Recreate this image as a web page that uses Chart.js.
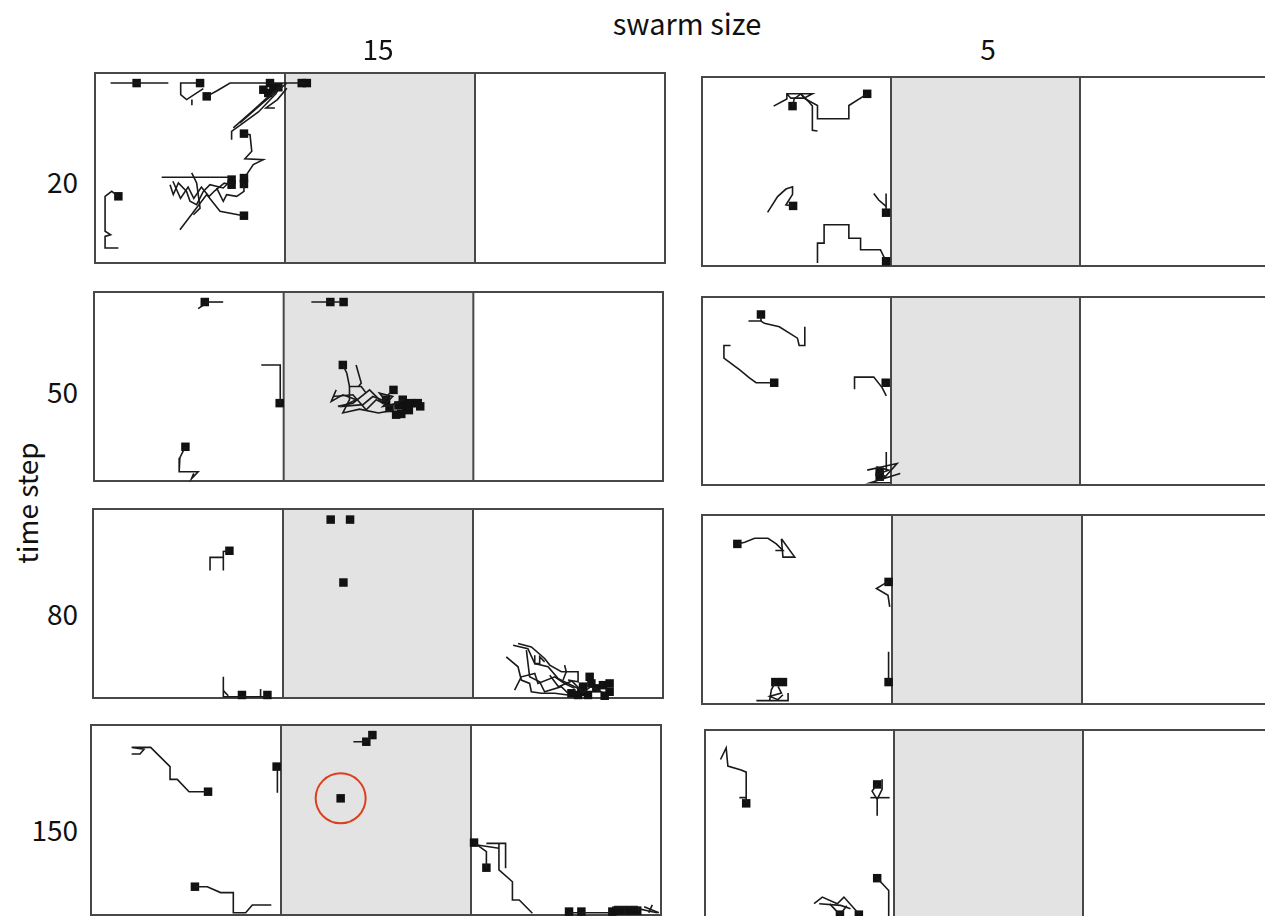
<!DOCTYPE html>
<html>
<head>
<meta charset="utf-8">
<script src="https://cdn.jsdelivr.net/npm/chart.js@4.4.0/dist/chart.umd.min.js"></script>
<style>
  html, body { margin: 0; padding: 0; background: #fff; }
  body { width: 1265px; height: 916px; position: relative; overflow: hidden; font-family: "Noto Sans CJK JP", "Noto Sans", sans-serif; color: #111; }
  canvas { position: absolute; }
  .lbl { position: absolute; white-space: nowrap; line-height: 1; }
</style>
</head>
<body>
<script>
// column / row labels
const swarmSizes = ['15', '5'];
const timeSteps = ['20', '50', '80', '150'];

// arena units: x 0-300 (three zones of 100, middle one shaded), y 0-100
// time step 20, swarm 15
const t20s15Paths = [
  [[8.2,94.7],[38.6,94.7]],
  [[55.3,94.7],[45.1,94.7],[45.1,88.6],[48.2,86.0],[57.0,91.8]],
  [[51,86],[51,83]],
  [[58.8,87.7],[64,90.5],[71.1,94.7],[90.4,94.7]],
  [[92.1,94.7],[110.5,94.7]],
  [[98.2,93.9],[84,81],[72.8,71.1]],
  [[95.6,89.5],[86,79.5],[71.9,69.3],[71.9,64.9]],
  [[100.9,94.7],[88,84],[76.3,73.7]],
  [[94.7,81.6],[90,81.6],[96,86],[101,92]],
  [[78.4,68.1],[81.6,67.5],[82.5,58.8],[78.9,54.9],[88.6,54.4],[83.3,51.8],[79.8,46.5],[78.4,44.7]],
  [[35.1,45.1],[71.1,45.1]],
  [[44.7,17.5],[58.8,36.0],[65.8,27.2],[78.1,24.9]],
  [[39.5,41.2],[41.2,36.0],[43.9,42.1],[48.2,37.7],[50.0,32.5],[53.5,30.7],[57.0,37.7],[60.5,41.2],[67.5,39.5],[71.1,43.0]],
  [[50.9,47.4],[53.5,42.1],[55.3,28.9],[51.8,25.4]],
  [[64.0,39.5],[67.5,32.5],[69.3,36.0],[74.6,35.1],[78.4,37.7],[78.4,41.6]],
  [[41,43],[45,34],[49,40],[52,34],[56,40],[60,35],[63,38],[68,42],[71.9,41.2]],
  [[12.3,35.1],[8.8,37.7],[5.3,35.1],[5.3,16.7],[8.2,14.9],[5.3,14.0],[5.3,7.9],[12.3,7.9]]
];
const t20s15Agents = [[21.9,94.7],[55.3,94.7],[58.8,87.7],[92.1,94.7],[88.6,91.2],[91.2,89.5],[93.9,91.8],[96.5,92.5],
  [108.8,94.7],[111.5,94.7],[78.4,68.1],[71.9,43.9],[71.9,41.2],[78.4,44.7],[78.4,41.6],[78.4,24.9],[12.3,35.1]];

// time step 20, swarm 5
const t20s5Paths = [
  [[37.9,84.6],[44.9,88.4],[44.9,91.1],[58.4,91.1],[54.0,88.8],[47.0,88.8],[44.9,91.1]],
  [[47.9,84.6],[48.8,88.4],[52.3,91.1],[54.0,88.8],[61.1,84.9],[61.1,77.9],[77.7,77.9],[77.7,84.9],[87.4,91.1]],
  [[52.3,91.1],[56.7,86.7],[58.4,84.6],[58.4,71.8],[61.1,71.4]],
  [[48.2,31.8],[44.4,32.3],[47.9,37.9],[47.9,41.9],[44.4,40.7],[40.0,36.7],[34.7,28.4]],
  [[97.4,28.2],[97.4,38.4]],
  [[97.4,31.5],[93.5,34.9],[90.9,38.4]],
  [[61.1,1.6],[61.1,12.1],[64.6,12.1],[64.6,21.8],[77.7,21.8],[77.7,14.7],[83.9,14.7],[83.9,8.6],[94.4,8.6],[97.4,2.5]]
];
const t20s5Agents = [[47.9,84.6],[87.4,91.1],[48.2,31.8],[97.4,28.2],[97.4,2.5]];

// time step 50, swarm 15
const t50s15Paths = [
  [[58.4,94.7],[68.1,94.7]],
  [[58.4,93.5],[54.9,91.2]],
  [[114.6,94.7],[131.6,94.7]],
  [[48.2,18.1],[47.0,15.8],[45.3,12.3],[44.9,4.9],[54.9,4.9],[51.4,1.2],[52.6,4.0]],
  [[88.2,61.4],[98.2,61.4],[98.2,41.2]],
  [[131.2,61.4],[133.3,57.0],[134.7,50.0],[140.9,50.0],[143.5,46.5]],
  [[138.2,61.4],[140.9,51.8],[139.5,50.0]],
  [[127.7,48.2],[125.1,42.1],[131.2,45.6],[138.2,43.0],[131.2,39.5],[141.8,40.4],[147.0,44.7],[154.0,42.1],[150.5,46.5],[157.5,44.7],[152.3,39.5],[161.1,41.2]],
  [[128.6,39.5],[136.5,41.2],[145.3,48.2],[152.3,41.2],[155.8,46.5]],
  [[126.0,44.7],[136.5,45.6],[143.5,37.7],[148.8,43.0],[155.8,39.5],[162.8,43.0]],
  [[134.7,50.0],[134.7,43.0],[131.2,36.0],[140,38],[150,36],[158,37.5]]
];
const t50s15Agents = [[58.4,94.7],[124.6,94.7],[131.6,94.7],[48.2,18.1],[97.9,41.2],[131.2,61.4],[157.9,48.2],[162.8,43.0],
  [167.2,41.2],[170.7,41.2],[155.8,38.6],[159.3,35.1],[164.6,38.6],[154.0,43.0],[160.5,40.0],[162,35.5],[166,37.5],[172,39.5]];

// time step 50, swarm 5
const t50s5Paths = [
  [[24.6,87.2],[31.2,87.2],[33.0,86.0],[40.9,84.2],[50.5,78.1],[51.4,74.2],[54.4,74.2],[54.4,84.2]],
  [[31.2,90.7],[31.2,87.2]],
  [[38.2,54.4],[28.6,54.4],[25.1,57.0],[19.8,61.4],[11.6,67.5],[11.6,74.2],[15.1,74.2]],
  [[80.7,50.9],[80.7,57.4],[90.9,57.4],[95.3,51.8],[97.5,47.4]],
  [[97.2,54.4],[95.5,52.5]],
  [[97.5,17.5],[97.5,7.9]],
  [[87.4,7.9],[103.2,11.4],[96.1,3.5],[104.9,6.1],[89.1,1.2],[99.6,1.2]],
  [[91.8,5.3],[98.8,7.9],[93,9.5],[97,4]]
];
const t50s5Agents = [[31.2,90.7],[38.2,54.4],[97.2,54.4],[94.0,7.0],[94.0,4.4]];

// time step 80, swarm 15
const t80s15Paths = [
  [[71.8,77.9],[68.6,77.5],[68.6,67.4]],
  [[68.6,74.4],[61.6,74.4],[61.6,67.4]],
  [[68.6,11.2],[68.6,0.7],[91.8,0.7]],
  [[68.6,3.9],[71.2,1.2]],
  [[88.2,4.7],[88.2,0.7]],
  [[221.1,27.9],[228.9,26.1],[232.5,18.2],[239.5,16.5],[244.7,10.4],[250.0,7.7],[257.0,4.2]],
  [[223.7,28.8],[230.7,27.0],[237.7,20.9],[240.4,17.4],[246.5,13.9],[255.3,13.9],[255.3,8.6],[250.0,9.5]],
  [[217.5,21.8],[223.7,16.5],[225.4,9.5],[229.8,7.7],[230.7,3.3],[236.0,2.5],[243.0,2.5],[250.0,1.6]],
  [[221.9,4.2],[225.4,11.2],[232.5,13.0],[234.2,7.7],[243.0,11.2],[248.2,7.7],[253.5,5.1]],
  [[228.1,25.3],[229.8,11.2],[235.1,8.6],[237.7,3.3],[246.5,6.0],[250.0,2.5]],
  [[232.5,22.6],[232.5,18.2],[235.1,18.2],[235.1,21.8],[237.7,19.1]],
  [[248.2,17.4],[249.1,13.9],[247.4,9.5]],
  [[240.4,12],[245,6],[252,9],[258,3],[262,6],[268,3]]
];
const t80s15Agents = [[71.8,77.9],[78.4,1.6],[91.8,1.6],[125.1,94.4],[135.3,94.4],[131.8,61.1],
  [261.4,11.2],[262.3,7.7],[257.9,6.0],[257.0,3.3],[251.8,2.5],[264.9,5.1],[268.4,6.8],[271.9,7.7],[271.9,3.3],[269.3,1.2],[260.5,1.6],[255.3,1.6]];

// time step 80, swarm 5
const t80s5Paths = [
  [[18.6,84.7],[22.5,85.6],[27.7,87.7],[34.7,87.7],[39.1,84.7],[42.6,81.2],[38.6,81.2]],
  [[41.8,87.4],[48.8,77.7],[42.6,77.7],[41.8,87.4]],
  [[98.2,64.6],[96.1,63.7],[91.8,61.1],[97.9,57.5],[98.8,51.4]],
  [[98.2,27.7],[98.2,11.6]],
  [[28.6,1.8],[45.3,1.8],[45.3,5.8]],
  [[38.6,11.6],[36.5,7.5],[35.6,1.8]],
  [[40.0,9.3],[41.8,5.8],[35.6,4.0],[40.0,2.3],[42.6,4.9]]
];
const t80s5Agents = [[18.6,84.7],[98.2,64.6],[98.2,11.6],[38.6,11.6],[42.6,11.6]];

// time step 150, swarm 15
const t150s15Paths = [
  [[61.6,64.9],[51.6,64.9],[45.4,71.4],[41.6,71.4],[41.6,78.1],[31.4,88.2],[21.4,88.2],[27.9,87.2],[25.8,84.7],[21.4,84.7]],
  [[98.1,78.1],[98.1,64.4]],
  [[54.7,14.9],[61.2,14.9],[68.2,11.8],[74.9,11.8],[74.9,1.2],[81.4,1.2],[84.9,5.3],[94.9,5.3]],
  [[138.1,91.2],[144.9,91.2],[148.1,94.7]],
  [[201.6,38.1],[208.1,33.3],[208.1,24.9]],
  [[203.3,36.8],[214.7,35.1]],
  [[208.1,37.7],[218.2,37.7],[218.2,24.6]],
  [[214.7,37.7],[214.7,23.7],[221.8,17.5],[221.8,7.9],[225.4,7.9],[232.3,0.9]],
  [[251.6,1.2],[273.5,1.2]],
  [[275.3,4.4],[287.5,4.4],[288.5,2.3]],
  [[287.5,3.5],[294.6,1.8],[298.1,1.2]],
  [[291.1,4.4],[298.9,1.2]],
  [[295.4,5.3],[293.6,1.2]]
];
const t150s15Agents = [[61.6,64.9],[97.7,78.1],[54.7,14.9],[148.1,94.7],[144.9,91.2],[131.4,61.4],[201.6,38.1],[208.1,24.9],
  [251.6,1.8],[258.1,1.8],[274.4,1.8],[278.8,2.3],[283.2,2.3],[287.5,2.3],[276.5,2.3]];
const t150s15Marked = [[131.4,61.4]];

// time step 150, swarm 5
const t150s5Paths = [
  [[21.8,61.2],[21.8,64.2],[18.2,64.2]],
  [[21.8,64.2],[21.8,77.7],[19.1,78.8],[12.1,80.9],[11.2,90.5],[8.2,84.4]],
  [[91.1,71.2],[88.4,67.7],[91.1,63.3],[91.1,54.6]],
  [[87.5,64.2],[97.7,64.2]],
  [[93.7,73.9],[93.7,68.6],[91.1,63.3]],
  [[91.1,21.6],[97.2,15.1],[97.2,0.2]],
  [[57.7,8.1],[62.1,11.6],[70.0,8.1],[73.5,11.6],[81.4,2.8]],
  [[60.4,8.1],[71.8,7.2],[77.0,5.4]],
  [[66,8],[71.4,2.3],[75,7]]
];
const t150s5Agents = [[21.8,61.2],[91.1,71.2],[91.1,21.6],[71.4,2.3],[81.4,2.3]];

// where each panel sits on the page (left, top, width, height of the arena frame)
const panels = [
  { box: [95, 73, 570, 190],  paths: t20s15Paths,  agents: t20s15Agents },
  { box: [702, 77, 567, 189], paths: t20s5Paths,   agents: t20s5Agents },
  { box: [94, 292, 569, 189], paths: t50s15Paths,  agents: t50s15Agents },
  { box: [702, 297, 567, 188], paths: t50s5Paths,  agents: t50s5Agents },
  { box: [93, 509, 570, 189], paths: t80s15Paths,  agents: t80s15Agents },
  { box: [702, 515, 570, 189], paths: t80s5Paths,  agents: t80s5Agents },
  { box: [91, 725, 570, 190], paths: t150s15Paths, agents: t150s15Agents, marked: t150s15Marked },
  { box: [705, 730, 567, 189], paths: t150s5Paths, agents: t150s5Agents }
];

const PAD = 8;

// shaded middle zone + frame
const arenaPlugin = {
  id: 'arena',
  beforeDatasetsDraw(chart) {
    const { ctx, chartArea: a, scales } = chart;
    const x1 = scales.x.getPixelForValue(100);
    const x2 = scales.x.getPixelForValue(200);
    ctx.save();
    ctx.fillStyle = '#e3e3e3';
    ctx.fillRect(x1, a.top, x2 - x1, a.bottom - a.top);
    ctx.strokeStyle = '#484848';
    ctx.lineWidth = 2;
    ctx.strokeRect(a.left, a.top, a.right - a.left, a.bottom - a.top);
    ctx.beginPath();
    ctx.moveTo(x1, a.top); ctx.lineTo(x1, a.bottom);
    ctx.moveTo(x2, a.top); ctx.lineTo(x2, a.bottom);
    ctx.stroke();
    ctx.restore();
  }
};

const toXY = p => ({ x: p[0], y: p[1] });

panels.forEach(function (p) {
  const [left, top, w, h] = p.box;
  const cv = document.createElement('canvas');
  cv.width = w + PAD * 2;
  cv.height = h + PAD * 2;
  cv.style.left = (left - PAD) + 'px';
  cv.style.top = (top - PAD) + 'px';
  document.body.appendChild(cv);

  const datasets = p.paths.map(function (path) {
    return {
      data: path.map(toXY),
      showLine: true,
      borderColor: '#1a1a1a',
      borderWidth: 1.6,
      pointRadius: 0,
      clip: false
    };
  });
  datasets.push({
    data: p.agents.map(toXY),
    pointStyle: 'rect',
    pointRadius: 6,
    backgroundColor: '#111',
    borderColor: '#111',
    borderWidth: 0,
    clip: false
  });
  if (p.marked) {
    datasets.push({
      data: p.marked.map(toXY),
      pointStyle: 'circle',
      pointRadius: 25,
      backgroundColor: 'rgba(0,0,0,0)',
      borderColor: '#d9401f',
      borderWidth: 2,
      clip: false
    });
  }

  new Chart(cv, {
    type: 'scatter',
    data: { datasets: datasets },
    options: {
      responsive: false,
      animation: false,
      devicePixelRatio: 1,
      events: [],
      layout: { padding: PAD, autoPadding: false },
      plugins: { legend: { display: false }, tooltip: { enabled: false } },
      scales: {
        x: { type: 'linear', min: 0, max: 300, display: false },
        y: { type: 'linear', min: 0, max: 100, display: false }
      }
    },
    plugins: [arenaPlugin]
  });
});

// text labels
function addLabel(text, x, y, size, extra) {
  const d = document.createElement('div');
  d.className = 'lbl';
  d.textContent = text;
  d.style.left = x + 'px';
  d.style.top = y + 'px';
  d.style.fontSize = size + 'px';
  d.style.transform = 'translate(-50%, -50%)' + (extra || '');
  document.body.appendChild(d);
}
addLabel('swarm size', 687, 22, 29);
addLabel(swarmSizes[0], 378, 48, 28);
addLabel(swarmSizes[1], 988, 48, 28);
const rowY = [181, 391, 613, 829];
timeSteps.forEach(function (t, i) {
  const d = document.createElement('div');
  d.className = 'lbl';
  d.textContent = t;
  d.style.right = (1265 - 78) + 'px';
  d.style.top = rowY[i] + 'px';
  d.style.fontSize = '28px';
  d.style.transform = 'translateY(-50%)';
  document.body.appendChild(d);
});
addLabel('time step', 26, 503, 28, ' rotate(-90deg)');
</script>
</body>
</html>
